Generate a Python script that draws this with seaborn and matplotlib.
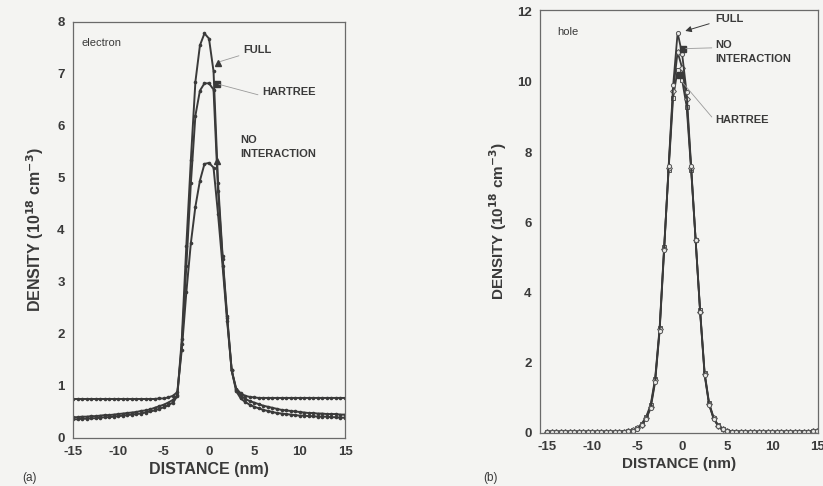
import numpy as np
import pandas as pd
import matplotlib
matplotlib.use("Agg")
import matplotlib.pyplot as plt
import seaborn as sns

# ---- data -------------------------------------------------------------
distance_nm = np.arange(-15.0, 15.01, 0.5)          # sampling grid (61 points)

# electron density, 10^18 cm^-3
e_full = [0.36, 0.36, 0.37, 0.37, 0.38, 0.38, 0.39, 0.40, 0.40, 0.41,
          0.42, 0.43, 0.44, 0.45, 0.46, 0.47, 0.49, 0.51, 0.53, 0.56,
          0.59, 0.63, 0.68, 0.80, 1.90, 3.70, 5.35, 6.85, 7.55, 7.78,
          7.68,
          7.05, 4.90, 3.50, 2.35, 1.30, 0.90, 0.76, 0.69, 0.64, 0.60,
          0.57, 0.54, 0.52, 0.50, 0.48, 0.47, 0.46, 0.45, 0.44, 0.43,
          0.43, 0.42, 0.42, 0.41, 0.41, 0.41, 0.40, 0.40, 0.39, 0.39]
e_hartree = [0.40, 0.40, 0.41, 0.41, 0.42, 0.42, 0.43, 0.44, 0.44, 0.45,
             0.46, 0.47, 0.48, 0.49, 0.50, 0.52, 0.53, 0.55, 0.58, 0.61,
             0.64, 0.68, 0.73, 0.82, 1.80, 3.30, 4.90, 6.20, 6.68, 6.82,
             6.82,
             6.70, 4.75, 3.45, 2.30, 1.30, 0.93, 0.82, 0.75, 0.71, 0.68,
             0.65, 0.62, 0.60, 0.58, 0.56, 0.54, 0.53, 0.52, 0.51, 0.50,
             0.49, 0.48, 0.48, 0.47, 0.47, 0.46, 0.46, 0.46, 0.45, 0.45]
e_noint = [0.75, 0.75, 0.75, 0.75, 0.75, 0.75, 0.75, 0.75, 0.75, 0.75,
           0.75, 0.75, 0.75, 0.75, 0.75, 0.75, 0.75, 0.75, 0.75, 0.76,
           0.76, 0.78, 0.81, 0.88, 1.70, 2.80, 3.75, 4.45, 4.95, 5.27,
           5.29,
           5.20, 4.30, 3.30, 2.25, 1.30, 0.95, 0.86, 0.81, 0.79, 0.78,
           0.77, 0.77, 0.77, 0.77, 0.77, 0.77, 0.77, 0.77, 0.77, 0.77,
           0.77, 0.77, 0.77, 0.77, 0.77, 0.77, 0.77, 0.77, 0.77, 0.77]

# hole density, 10^18 cm^-3
h_full = [0.03, 0.03, 0.03, 0.03, 0.03, 0.03, 0.03, 0.03, 0.03, 0.03,
          0.03, 0.03, 0.03, 0.03, 0.03, 0.03, 0.03, 0.04, 0.05, 0.07,
          0.12, 0.22, 0.40, 0.70, 1.45, 2.90, 5.20, 7.60, 9.90, 11.40,
          10.80,
          9.70, 7.60, 5.50, 3.45, 1.65, 0.80, 0.40, 0.20, 0.10, 0.06,
          0.04, 0.04, 0.03, 0.03, 0.03, 0.03, 0.03, 0.03, 0.03, 0.03,
          0.03, 0.03, 0.03, 0.03, 0.03, 0.04, 0.04, 0.04, 0.05, 0.05]
h_noint = [0.03, 0.03, 0.03, 0.03, 0.03, 0.03, 0.03, 0.03, 0.03, 0.03,
           0.03, 0.03, 0.03, 0.03, 0.03, 0.03, 0.03, 0.04, 0.05, 0.08,
           0.13, 0.24, 0.43, 0.75, 1.50, 2.95, 5.25, 7.55, 9.75, 10.85,
           10.40,
           9.50, 7.55, 5.50, 3.45, 1.68, 0.82, 0.42, 0.21, 0.11, 0.06,
           0.04, 0.04, 0.03, 0.03, 0.03, 0.03, 0.03, 0.03, 0.03, 0.03,
           0.03, 0.03, 0.03, 0.03, 0.03, 0.04, 0.04, 0.04, 0.05, 0.05]
h_hartree = [0.03, 0.03, 0.03, 0.03, 0.03, 0.03, 0.03, 0.03, 0.03, 0.03,
             0.03, 0.03, 0.03, 0.03, 0.03, 0.03, 0.03, 0.04, 0.05, 0.08,
             0.14, 0.26, 0.46, 0.80, 1.55, 3.00, 5.30, 7.50, 9.55, 10.35,
             10.05,
             9.30, 7.50, 5.50, 3.50, 1.72, 0.85, 0.44, 0.22, 0.12, 0.07,
             0.04, 0.04, 0.03, 0.03, 0.03, 0.03, 0.03, 0.03, 0.03, 0.03,
             0.03, 0.03, 0.03, 0.03, 0.03, 0.04, 0.04, 0.04, 0.05, 0.05]

x_ticks = [-15, -10, -5, 0, 5, 10, 15]
e_yticks = [0, 1, 2, 3, 4, 5, 6, 7, 8]
h_yticks = [0, 2, 4, 6, 8, 10, 12]

# ---- style ------------------------------------------------------------
sns.set_theme(style="white")
plt.rcParams["font.family"] = ["Liberation Sans", "DejaVu Sans"]
plt.rcParams["axes.unicode_minus"] = False
BG = "#f4f4f2"
INK = "#3a3a3a"
AX = "#6a6a6a"

fig = plt.figure(figsize=(8.23, 4.86), dpi=100, facecolor=BG)
ax_e = fig.add_axes([0.0887, 0.0988, 0.3305, 0.8560])
ax_h = fig.add_axes([0.6561, 0.1091, 0.3378, 0.8704])


def style_axes(ax):
    ax.set_facecolor(BG)
    for sp in ax.spines.values():
        sp.set_color(AX)
        sp.set_linewidth(0.9)
    ax.tick_params(direction="in", length=3, width=0.8, color=AX,
                   labelsize=9.5, labelcolor=INK, pad=6)
    for lab in ax.get_xticklabels() + ax.get_yticklabels():
        lab.set_fontweight("bold")


YLABEL = r"DENSITY (10$^{\mathbf{18}}$ cm$^{\mathbf{-3}}$)"

# ---- (a) electron -----------------------------------------------------
e_df = pd.DataFrame({"x": distance_nm, "full": e_full,
                     "hartree": e_hartree, "noint": e_noint})
for col in ["noint", "hartree", "full"]:
    sns.lineplot(data=e_df, x="x", y=col, ax=ax_e, color=INK, linewidth=1.4,
                 marker="o", markersize=2.6, markeredgewidth=0,
                 markerfacecolor=INK, legend=False, sort=False)

ax_e.set_xlim(-15, 15)
ax_e.set_ylim(0, 8)
ax_e.set_xticks(x_ticks)
ax_e.set_yticks(e_yticks)
style_axes(ax_e)
ax_e.set_xlabel("DISTANCE (nm)", fontsize=11.5, fontweight="bold",
                color=INK, labelpad=3)
ax_e.set_ylabel(YLABEL, fontsize=11.5, fontweight="bold", color=INK,
                labelpad=8)

ax_e.text(-14.1, 7.6, "electron", fontsize=8, color=INK, va="center")
# series labels with their key symbols
ax_e.plot([1.0], [7.22], marker="^", color=INK, markersize=5)
ax_e.plot([3.3, 1.25], [7.35, 7.24], color="#9a9a9a", linewidth=0.6)
ax_e.text(3.75, 7.46, "FULL", fontsize=8, fontweight="bold", color=INK,
          va="center")
ax_e.plot([0.85], [6.8], marker="s", color=INK, markersize=4)
ax_e.plot([1.1, 5.4], [6.8, 6.6], color="#9a9a9a", linewidth=0.6)
ax_e.text(5.84, 6.65, "HARTREE", fontsize=8, fontweight="bold", color=INK,
          va="center")
ax_e.plot([0.9], [5.32], marker="^", color=INK, markersize=4.5)
ax_e.text(3.5, 5.6, "NO\nINTERACTION", fontsize=8, fontweight="bold",
          color=INK, va="center", linespacing=1.5)
fig.text(22 / 823, 1 - 478 / 486, "(a)", fontsize=8.5, color=INK, va="center")

# ---- (b) hole ---------------------------------------------------------
h_df = pd.DataFrame({"x": distance_nm, "full": h_full,
                     "hartree": h_hartree, "noint": h_noint})
for col, mk in [("hartree", "s"), ("noint", "D"), ("full", "o")]:
    sns.lineplot(data=h_df, x="x", y=col, ax=ax_h, color=INK, linewidth=1.3,
                 marker=mk, markersize=3.0, markeredgewidth=0.7,
                 markeredgecolor="#555555", markerfacecolor="#e8e8e6",
                 legend=False, sort=False)

ax_h.set_xlim(-15.8, 15.1)
ax_h.set_ylim(0, 12.05)
ax_h.set_xticks(x_ticks)
ax_h.set_yticks(h_yticks)
style_axes(ax_h)
ax_h.set_xlabel("DISTANCE (nm)", fontsize=11, fontweight="bold",
                color=INK, labelpad=3)
ax_h.set_ylabel(YLABEL, fontsize=11, fontweight="bold", color=INK,
                labelpad=6)

ax_h.text(-13.9, 11.43, "hole", fontsize=8, color=INK, va="center")
ax_h.annotate("", xy=(0.05, 11.43), xytext=(3.3, 11.68),
              arrowprops=dict(arrowstyle="-|>", color=INK, lw=0.7,
                              mutation_scale=9))
ax_h.text(3.67, 11.8, "FULL", fontsize=8, fontweight="bold", color=INK,
          va="center")
ax_h.plot([0.1], [10.95], marker="s", color=INK, markersize=4)
ax_h.plot([0.4, 3.3], [10.95, 10.97], color="#9a9a9a", linewidth=0.6)
ax_h.text(3.67, 10.85, "NO\nINTERACTION", fontsize=8, fontweight="bold",
          color=INK, va="center", linespacing=1.4)
ax_h.plot([-0.2], [10.2], marker="s", color=INK, markersize=4)
ax_h.plot([0.0, 3.3], [10.0, 9.0], color="#9a9a9a", linewidth=0.6)
ax_h.text(3.67, 8.92, "HARTREE", fontsize=8, fontweight="bold", color=INK,
          va="center")
fig.text(483 / 823, 1 - 478 / 486, "(b)", fontsize=8.5, color=INK,
         va="center")

fig.savefig("out.png", dpi=100, facecolor=BG)
